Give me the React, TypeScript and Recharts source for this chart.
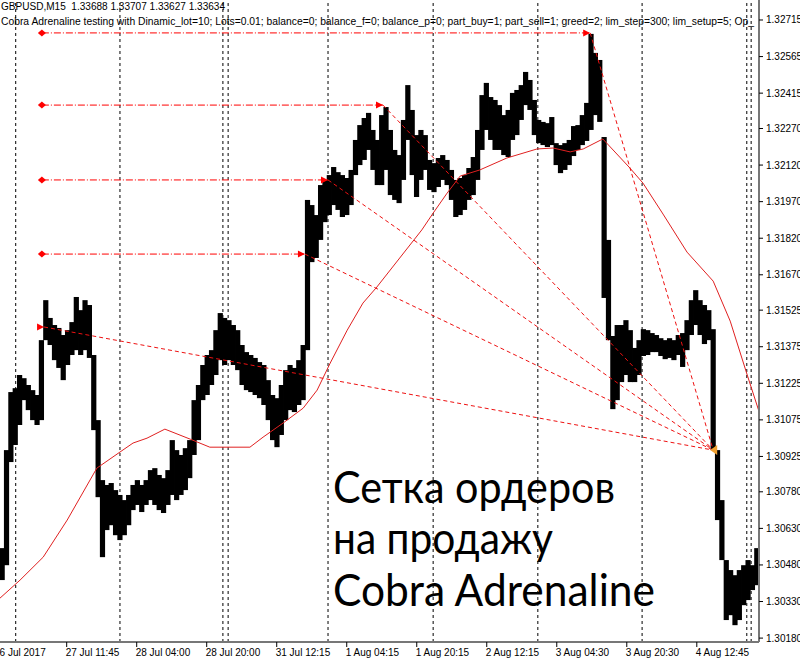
import React from "react";
import { ComposedChart, Bar, Line, XAxis, YAxis, ReferenceLine, ReferenceDot } from "recharts";

// GBPUSD hourly high / low (one slot = 4 M15 bars)
const highs = [
  1.30549, 1.30951, 1.31189, 1.31205, 1.31259, 1.31246, 1.31218, 1.31197, 1.31177, 1.31402,
  1.31566, 1.31493, 1.31464, 1.31452, 1.31423, 1.31443, 1.31476, 1.31579, 1.31525, 1.31566,
  1.31546, 1.31341, 1.31074, 1.30828, 1.30808, 1.30816, 1.30787, 1.30767, 1.30746, 1.30767,
  1.30808, 1.30828, 1.30808, 1.30828, 1.30869, 1.30877, 1.30849, 1.30836, 1.30869, 1.30992,
  1.30951, 1.30931, 1.30959, 1.30992, 1.31156, 1.31218, 1.313, 1.31341, 1.31361, 1.31443,
  1.31513, 1.31493, 1.31484, 1.31464, 1.31443, 1.31382, 1.31353, 1.31341, 1.31329, 1.31312,
  1.313, 1.31238, 1.31177, 1.31164, 1.31218, 1.31279, 1.313, 1.31288, 1.3132, 1.31382,
  1.31977, 1.31956, 1.31915, 1.32038, 1.32059, 1.32079, 1.32112, 1.32091, 1.32079, 1.32067,
  1.321, 1.32223, 1.32284, 1.32313, 1.32334, 1.32264, 1.32223, 1.32325, 1.32358, 1.32264,
  1.32182, 1.32161, 1.32305, 1.32448, 1.32346, 1.32243, 1.32264, 1.32243, 1.32141, 1.32128,
  1.32149, 1.32161, 1.32141, 1.321, 1.32059, 1.32067, 1.32079, 1.32108, 1.32153, 1.32264,
  1.32407, 1.32457, 1.32399, 1.32387, 1.32366, 1.32325, 1.32346, 1.32416, 1.32428, 1.32448,
  1.32502, 1.32469, 1.32387, 1.32305, 1.32297, 1.32292, 1.32317, 1.3221, 1.32202, 1.3221,
  1.32223, 1.3228, 1.32284, 1.32325, 1.32375, 1.32658, 1.3258, 1.32551, 1.32235, 1.31813,
  1.31419, 1.31464, 1.31464, 1.31484, 1.31443, 1.3137, 1.31402, 1.31447, 1.31443, 1.31431,
  1.31423, 1.3141, 1.31402, 1.3141, 1.31402, 1.31423, 1.31431, 1.31484, 1.31566, 1.31607,
  1.31566, 1.31546, 1.31525, 1.31447, 1.30951, 1.30746, 1.305, 1.30459, 1.30438, 1.30459,
  1.30479, 1.305, 1.30479, 1.30549,
];
const lows = [
  1.30418, 1.30479, 1.30902, 1.30972, 1.31054, 1.31156, 1.31115, 1.31074, 1.31054, 1.31074,
  1.31402, 1.31382, 1.3132, 1.31288, 1.31238, 1.313, 1.31341, 1.31361, 1.31341, 1.31361,
  1.31329, 1.31033, 1.30758, 1.30512, 1.30623, 1.30643, 1.30602, 1.30582, 1.30602, 1.30643,
  1.30705, 1.30726, 1.30697, 1.30726, 1.30746, 1.30726, 1.30705, 1.30693, 1.30726, 1.30767,
  1.30746, 1.30767, 1.30787, 1.30836, 1.30931, 1.30992, 1.31156, 1.31177, 1.31218, 1.31259,
  1.3132, 1.313, 1.3132, 1.313, 1.31279, 1.31218, 1.31197, 1.31189, 1.31177, 1.31164,
  1.31136, 1.31074, 1.30992, 1.30963, 1.31013, 1.31074, 1.31115, 1.31107, 1.31136, 1.31156,
  1.31361, 1.31722, 1.31739, 1.31813, 1.31886, 1.31915, 1.31956, 1.31936, 1.31907, 1.31915,
  1.31956, 1.32079, 1.3212, 1.32141, 1.32182, 1.321, 1.32038, 1.32038, 1.321, 1.31997,
  1.31977, 1.31964, 1.32059, 1.32223, 1.32079, 1.31989, 1.32059, 1.321, 1.32018, 1.32009,
  1.3203, 1.32059, 1.32038, 1.31977, 1.31907, 1.31915, 1.31936, 1.31977, 1.31997, 1.32059,
  1.32182, 1.32264, 1.32223, 1.32182, 1.32182, 1.32161, 1.32153, 1.32223, 1.32243, 1.32305,
  1.32366, 1.32346, 1.32243, 1.3221, 1.32202, 1.32194, 1.32202, 1.3212, 1.32087, 1.321,
  1.3212, 1.32157, 1.32182, 1.32202, 1.32219, 1.32264, 1.32325, 1.32297, 1.31575, 1.31402,
  1.31119, 1.31156, 1.3123, 1.31259, 1.3123, 1.3123, 1.31259, 1.31337, 1.31341, 1.31353,
  1.31353, 1.31337, 1.31324, 1.31329, 1.3132, 1.31341, 1.31292, 1.31361, 1.31423, 1.31464,
  1.31423, 1.31386, 1.31402, 1.30951, 1.30664, 1.305, 1.30254, 1.30274, 1.30233, 1.30254,
  1.30315, 1.30336, 1.30377, 1.30397,
];

// moving average (slot, price)
const maSlots = [
  0, 4.6, 9.9, 15.4, 22.2, 27.5, 30.5, 33.7, 37.8, 43.6, 48.1, 57.3, 60.3, 64.9, 69.5, 72.7,
  75.7, 79.6, 83.2, 86.4, 96.7, 99.3, 102.5, 105.5, 110, 116.2, 123.1, 126.8, 130.7, 133.7,
  138.2, 144.4, 147.4, 152, 157.5, 163.5, 167.4, 171.3, 173.9,
];
const maValues = [
  1.30344, 1.30418, 1.30512, 1.30664, 1.30877, 1.30943, 1.3098, 1.31, 1.31037, 1.30996,
  1.30963, 1.30963, 1.31004, 1.31062, 1.31123, 1.31197, 1.31308, 1.31443, 1.31554, 1.3162,
  1.31854, 1.31923, 1.32005, 1.32075, 1.321, 1.32149, 1.32186, 1.3219, 1.32174, 1.32186,
  1.32227, 1.32108, 1.32046, 1.31919, 1.31763, 1.31644, 1.3148, 1.31259, 1.31115,
];

const tickSlots = [0, 15.29, 31.34, 47.39, 63.44, 79.49, 95.54, 111.59, 127.64, 143.69, 159.74];
const tickLabels = [
  "26 Jul 2017", "27 Jul 11:45", "28 Jul 04:00", "28 Jul 20:00", "31 Jul 12:15", "1 Aug 04:15",
  "1 Aug 20:15", "2 Aug 12:15", "3 Aug 04:30", "3 Aug 20:30", "4 Aug 12:45",
];
const priceTicks = [
  1.32715, 1.32565, 1.32415, 1.3227, 1.3212, 1.3197, 1.3182, 1.3167, 1.31525, 1.31375,
  1.31225, 1.31075, 1.30925, 1.3078, 1.3063, 1.3048, 1.3033, 1.3018,
];
const daySeparators = [3.6, 27.5, 51.1, 52.3, 75.2, 99.3, 123.3, 147.2, 171.2, 172.2];

// sell orders: entries, one common exit
const entrySlots = [135.3, 87.8, 75.2, 69.9, 10.1];
const entryPrices = [1.32662, 1.32366, 1.32059, 1.31755, 1.31456];
const pendingStart = 9.6;
const exitSlot = 163.5;
const exitPrice = 1.30951;

const bars = highs.map((h, i) => ({ slot: i + 0.5, range: [lows[i], h] }));
const maData = maSlots.map((s, i) => ({ slot: s, ma: maValues[i] }));

const FONT = "'Liberation Sans', Arial, sans-serif";

const HLBar = (p: any) => {
  const { x, y, width, height } = p;
  const cx = x + width / 2;
  return <rect x={cx - 2.6} y={y} width={5.2} height={Math.max(height, 1)} fill="#000" />;
};

const TimeTick = (props: any) => {
  const { x, y, index } = props;
  return (
    <g>
      {index > 0 && <line x1={x} y1={y} x2={x} y2={y + 5} stroke="#000" />}
      <text x={index === 0 ? x - 6 : x - 1} y={y + 14} fontSize={10} fontFamily={FONT} fill="#000">
        {tickLabels[index]}
      </text>
    </g>
  );
};

const PriceTick = (props: any) => {
  const { x, y, payload } = props;
  return (
    <g>
      <line x1={x} y1={y} x2={x + 4} y2={y} stroke="#000" />
      <text x={x + 7} y={y + 3.5} fontSize={10} fontFamily={FONT} fill="#000">
        {Number(payload.value).toFixed(5)}
      </text>
    </g>
  );
};

const ArrowRight = (p: any) => (
  <path d={`M${p.cx - 7},${p.cy - 3.5} L${p.cx},${p.cy} L${p.cx - 7},${p.cy + 3.5} Z`} fill="#ff0000" />
);
const Diamond = (p: any) => (
  <path d={`M${p.cx - 4},${p.cy} L${p.cx},${p.cy - 3.5} L${p.cx + 4},${p.cy} L${p.cx},${p.cy + 3.5} Z`} fill="#ff0000" />
);
const ExitMark = (p: any) => (
  <path d={`M${p.cx - 3},${p.cy} L${p.cx + 4},${p.cy - 5} L${p.cx + 4},${p.cy + 5} Z`} fill="#f0a030" />
);

export default function App() {
  return (
    <div style={{ position: "absolute", left: 0, top: 0, width: 800, height: 658, background: "#fff", overflow: "hidden" }}>
      <ComposedChart width={800} height={658} data={bars} margin={{ top: 0, right: 0, bottom: 0, left: 0 }}>
        <XAxis
          dataKey="slot"
          type="number"
          domain={[0, 174]}
          allowDataOverflow
          ticks={tickSlots}
          interval={0}
          tick={<TimeTick />}
          tickLine={false}
          tickSize={0}
          tickMargin={0}
          height={16}
          axisLine={{ stroke: "#777", strokeWidth: 2 }}
        />
        <YAxis
          orientation="right"
          type="number"
          domain={[1.30164, 1.32797]}
          allowDataOverflow
          ticks={priceTicks}
          interval={0}
          tick={<PriceTick />}
          tickLine={false}
          tickSize={0}
          tickMargin={0}
          width={41}
          axisLine={{ stroke: "#777", strokeWidth: 2 }}
        />
        {daySeparators.map((s) => (
          <ReferenceLine key={"d" + s} x={s} stroke="#000" strokeDasharray="3 3" />
        ))}
        <Bar dataKey="range" fill="#000" barSize={4} shape={<HLBar />} isAnimationActive={false} />
        <Line
          data={maData}
          dataKey="ma"
          type="linear"
          dot={false}
          activeDot={false}
          stroke="#e02020"
          strokeWidth={1}
          isAnimationActive={false}
        />
        {entrySlots.slice(0, 4).map((s, i) => (
          <ReferenceLine
            key={"h" + i}
            segment={[{ x: pendingStart, y: entryPrices[i] }, { x: s, y: entryPrices[i] }]}
            stroke="#ff0000"
            strokeDasharray="7 2 1 2"
          />
        ))}
        {entrySlots.map((s, i) => (
          <ReferenceLine
            key={"t" + i}
            segment={[{ x: s, y: entryPrices[i] }, { x: exitSlot, y: exitPrice }]}
            stroke="#ee1111"
            strokeDasharray="4 3"
          />
        ))}
        {entrySlots.slice(0, 4).map((s, i) => (
          <ReferenceDot key={"l" + i} x={pendingStart} y={entryPrices[i]} r={3} shape={<Diamond />} />
        ))}
        {entrySlots.slice(0, 4).map((s, i) => (
          <ReferenceDot key={"e" + i} x={s} y={entryPrices[i]} r={3} shape={<ArrowRight />} />
        ))}
        <ReferenceDot x={entrySlots[4]} y={entryPrices[4]} r={3} shape={<ArrowRight />} />
        <ReferenceDot x={exitSlot} y={exitPrice} r={3} shape={<ExitMark />} />
      </ComposedChart>
      <svg width={800} height={658} style={{ position: "absolute", left: 0, top: 0, pointerEvents: "none" }}>
        <text x={1} y={10} fontSize={10} fontFamily={FONT} fill="#000" textLength={224} lengthAdjust="spacingAndGlyphs" style={{ whiteSpace: "pre" }}>
          GBPUSD,M15  1.33688 1.33707 1.33627 1.33634
        </text>
        <text x={1} y={25} fontSize={10} fontFamily={FONT} fill="#000" textLength={753} lengthAdjust="spacingAndGlyphs">
          Cobra Adrenaline testing with Dinamic_lot=10; Lots=0.01; balance=0; balance_f=0; balance_p=0; part_buy=1; part_sell=1; greed=2; lim_step=300; lim_setup=5; Op_
        </text>
        <g fontFamily="Lato, 'Open Sans', sans-serif" fontSize={44} fill="#000">
          <text x={333} y={503} textLength={282} lengthAdjust="spacingAndGlyphs">Сетка ордеров</text>
          <text x={333} y={554} textLength={220} lengthAdjust="spacingAndGlyphs">на продажу</text>
          <text x={333} y={606} textLength={322} lengthAdjust="spacingAndGlyphs">Cobra Adrenaline</text>
        </g>
      </svg>
    </div>
  );
}
